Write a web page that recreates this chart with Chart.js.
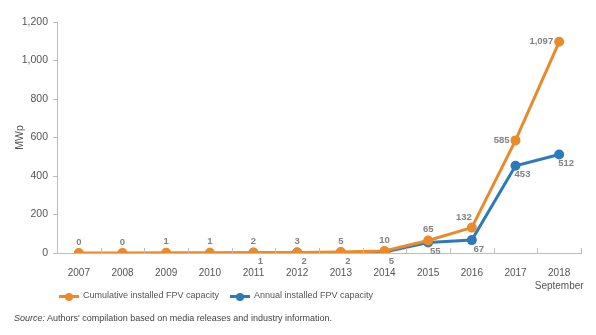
<!DOCTYPE html>
<html lang="en">
<head>
  <meta charset="utf-8">
  <title>FPV installed capacity</title>
  <script src="https://cdn.jsdelivr.net/npm/chart.js@4.4.0/dist/chart.umd.min.js"></script>
<style>
body { margin: 0; background: #fff; font-family: "Liberation Sans", Arial, sans-serif; }
#wrap { position: relative; width: 596px; height: 335px; }
#box { position: absolute; left: 0; top: 0; width: 596px; height: 300px; }
.legend { position: absolute; top: 289px; left: 0; font-size: 9px; color: #555; }
.item { position: absolute; white-space: nowrap; }
.swatch { position: absolute; top: 6px; width: 20px; height: 3px; }
.swatch i { position: absolute; left: 6px; top: -2.5px; width: 8px; height: 8px; border-radius: 50%; background: inherit; }
.item span { position: absolute; left: 24px; top: 1px; }
.source { position: absolute; top: 313px; left: 14px; font-size: 9px; color: #444; white-space: nowrap; }
</style>
</head>
<body>
<div id="wrap">
  <div id="box"><canvas id="fpv"></canvas></div>
  <div class="legend">
    <div class="item" style="left:59px"><div class="swatch" style="background:#e98a2b"><i></i></div><span>Cumulative installed FPV capacity</span></div>
    <div class="item" style="left:230px"><div class="swatch" style="background:#2c7bb8"><i></i></div><span>Annual installed FPV capacity</span></div>
  </div>
  <div class="source"><em>Source:</em> Authors' compilation based on media releases and industry information.</div>
</div>

<script>
// MWp per year
var years = ['2007', '2008', '2009', '2010', '2011', '2012', '2013', '2014', '2015', '2016', '2017', ['2018', 'September']];
var cumulative = [0, 0, 1, 1, 2, 3, 5, 10, 65, 132, 585, 1097];
var annual = [null, null, null, null, 1, 2, 2, 5, 55, 67, 453, 512];
var yTicks = [0, 200, 400, 600, 800, 1000, 1200];

var ORANGE = '#e98a2b';
var BLUE = '#2c7bb8';
var FONT = '"Liberation Sans", Arial, sans-serif';

// where each value label sits relative to its point [dx, dy, align]
var cumPlace = function (i) {
  if (i >= 10) return [-6, 0, 'right'];
  if (i == 9) return [-8, -10, 'center'];
  return [0, -11, 'center'];
};
var annPlace = function (i) {
  return [7, 9, 'center'];
};

var valueLabels = {
  id: 'valueLabels',
  afterDatasetsDraw: function (chart) {
    var ctx = chart.ctx;
    ctx.save();
    ctx.font = 'bold 9.5px ' + FONT;
    ctx.fillStyle = '#828282';
    ctx.textBaseline = 'middle';
    [[0, cumPlace], [1, annPlace]].forEach(function (d) {
      var meta = chart.getDatasetMeta(d[0]);
      var vals = chart.data.datasets[d[0]].data;
      meta.data.forEach(function (pt, i) {
        if (vals[i] == null) return;
        var p = d[1](i);
        ctx.textAlign = p[2];
        ctx.fillText(vals[i].toLocaleString('en-US'), pt.x + p[0], pt.y + p[1]);
      });
    });
    ctx.restore();
  }
};

// short upward tick marks between the year categories
var xTicksUp = {
  id: 'xTicksUp',
  afterDraw: function (chart) {
    var x = chart.scales.x, ctx = chart.ctx;
    var step = x.width / years.length;
    ctx.save();
    ctx.strokeStyle = '#bdbdbd';
    ctx.lineWidth = 1;
    ctx.beginPath();
    for (var k = 1; k <= years.length; k++) {
      var px = Math.round(x.left + step * k) + 0.5;
      ctx.moveTo(px, x.top);
      ctx.lineTo(px, x.top - 5);
    }
    ctx.stroke();
    ctx.restore();
  }
};

new Chart(document.getElementById('fpv'), {
  type: 'line',
  data: {
    labels: years,
    datasets: [
      {
        label: 'Cumulative installed FPV capacity',
        data: cumulative,
        borderColor: ORANGE,
        backgroundColor: ORANGE,
        borderWidth: 3,
        pointRadius: 3.5,
        pointHoverRadius: 3.5,
        tension: 0
      },
      {
        label: 'Annual installed FPV capacity',
        data: annual,
        borderColor: BLUE,
        backgroundColor: BLUE,
        borderWidth: 3,
        pointRadius: 3.5,
        pointHoverRadius: 3.5,
        tension: 0
      }
    ]
  },
  options: {
    responsive: true,
    maintainAspectRatio: false,
    animation: false,
    layout: { padding: { top: 22, right: 15, left: 0, bottom: 0 } },
    plugins: { legend: { display: false }, tooltip: { enabled: false } },
    scales: {
      x: {
        offset: true,
        grid: { display: false },
        border: { color: '#bdbdbd' },
        ticks: {
          color: '#555',
          padding: 6,
          maxRotation: 0,
          autoSkip: false,
          font: { family: FONT, size: 10, lineHeight: 1.25 }
        },
        afterFit: function (s) { s.height = 47; }
      },
      y: {
        min: 0,
        max: 1200,
        afterBuildTicks: function (s) { s.ticks = yTicks.map(function (v) { return { value: v }; }); },
        grid: { drawOnChartArea: false, drawTicks: true, tickLength: 4, color: '#bdbdbd' },
        border: { color: '#bdbdbd' },
        ticks: {
          color: '#555',
          padding: 5,
          font: { family: FONT, size: 10.5 },
          callback: function (v) { return v.toLocaleString('en-US'); }
        },
        title: {
          display: true,
          text: 'MWp',
          color: '#555',
          padding: { top: 14, bottom: 0 },
          font: { family: FONT, size: 10.5 }
        },
        afterFit: function (s) { s.width = 57; }
      }
    }
  },
  plugins: [valueLabels, xTicksUp]
});
</script>
</body>
</html>
